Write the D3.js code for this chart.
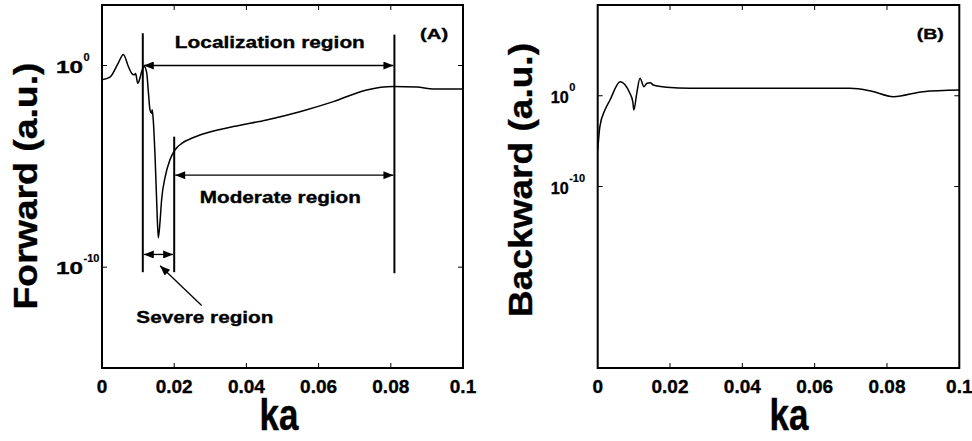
<!DOCTYPE html>
<html>
<head>
<meta charset="utf-8">
<script src="https://cdn.jsdelivr.net/npm/d3@7"></script>
<style>
  body { margin: 0; background: #fff; }
  svg { display: block; }
  text { font-family: "Liberation Sans", Arial, sans-serif; font-weight: bold; fill: #000; stroke: #000; stroke-width: 0.35px; }
</style>
</head>
<body>
<svg id="chart" width="972" height="441"></svg>
<script>
// panel A: forward, values as log10
var kaA = [0, 0.0022, 0.0045, 0.0059, 0.0073, 0.0082, 0.0089, 0.0093, 0.0099, 0.0105, 0.0110, 0.0117,
  0.0124, 0.0128, 0.0133, 0.0138, 0.0139, 0.0142, 0.0147, 0.0152, 0.0156, 0.0161, 0.0165, 0.0175,
  0.0188, 0.0202, 0.0221, 0.0248, 0.0271, 0.0364, 0.0456, 0.0548, 0.0641, 0.0733, 0.0807, 0.0872, 0.0918, 0.1];
var forwardLog = [-0.71, -0.58, 0.12, 0.55, -0.05, -0.38, -0.46, -0.40, -0.88, -0.63, -0.30, -0.05,
  -0.38, -1.21, -2.2, -2.37, -2.2, -2.7, -4.52, -7.0, -8.55, -7.68, -6.68, -5.52,
  -4.69, -4.19, -3.86, -3.61, -3.45, -3.03, -2.7, -2.29, -1.79, -1.21, -1.04, -1.07, -1.16, -1.17];

// panel B: backward, values as log10
var kaB = [0, 0.0006, 0.002, 0.0034, 0.0062, 0.0089, 0.0097, 0.0100, 0.0108, 0.0117, 0.0128, 0.0136,
  0.0145, 0.0154, 0.0191, 0.0255, 0.0698, 0.0753, 0.0818, 0.0900, 0.1];
var backwardLog = [-6.0, -3.4, -1.57, -0.47, 1.55, 0.27, -0.65, -1.57, 0.27, 1.92, 1.0, 1.37,
  1.44, 1.18, 0.93, 0.82, 0.82, 0.55, -0.1, 0.45, 0.63];

var xTicks = [0, 0.02, 0.04, 0.06, 0.08, 0.1];
var xTickLabels = ["0", "0.02", "0.04", "0.06", "0.08", "0.1"];
var yTicks = [0, -10];   // exponents

// region markers in panel A (log10 units)
var regionLines = [
  {ka: 0.0113, from: 1.6, to: -10.25},
  {ka: 0.02, from: -3.53, to: -10.25},
  {ka: 0.081, from: 1.53, to: -10.3}
];
var regionArrows = [
  {x0: 0.0113, x1: 0.081, y: 0},
  {x0: 0.02, x1: 0.081, y: -5.44},
  {x0: 0.0113, x1: 0.02, y: -9.37}
];
var regionLabels = [
  {text: "Localization region", ka: 0.0465, y: 0.88, w: 190},
  {text: "Moderate region", ka: 0.0494, y: -6.8, w: 161},
  {text: "Severe region", ka: 0.0285, y: -12.75, w: 137}
];

var svg = d3.select("#chart");

var defs = svg.append("defs");
defs.append("marker")
  .attr("id", "head")
  .attr("viewBox", "0 0 10 8")
  .attr("refX", 10).attr("refY", 4)
  .attr("markerWidth", 11).attr("markerHeight", 8)
  .attr("markerUnits", "userSpaceOnUse")
  .attr("orient", "auto-start-reverse")
  .append("path").attr("d", "M0,0L10,4L0,8Z").attr("fill", "#000");

function panel(opt) {
  var x = d3.scaleLinear().domain([0, 0.1]).range([opt.left, opt.right]);
  var y = d3.scaleLog().domain([Math.pow(10, opt.ymin), Math.pow(10, opt.ymax)]).range([368, 5]);
  var g = svg.append("g");

  // ticks inside the frame
  xTicks.slice(1, -1).forEach(function(t) {
    g.append("line").attr("x1", x(t)).attr("x2", x(t)).attr("y1", 368).attr("y2", 363)
      .attr("stroke", "#000").attr("stroke-width", 1);
    g.append("line").attr("x1", x(t)).attr("x2", x(t)).attr("y1", 5).attr("y2", 10)
      .attr("stroke", "#000").attr("stroke-width", 1);
  });
  yTicks.forEach(function(t) {
    var yy = y(Math.pow(10, t));
    g.append("line").attr("x1", opt.left).attr("x2", opt.left + 5).attr("y1", yy).attr("y2", yy)
      .attr("stroke", "#000").attr("stroke-width", 1);
    g.append("line").attr("x1", opt.right).attr("x2", opt.right - 5).attr("y1", yy).attr("y2", yy)
      .attr("stroke", "#000").attr("stroke-width", 1);
    var xr = opt.left - opt.tenGap;
    g.append("text").attr("x", xr - opt.tenW).attr("y", yy + 7)
      .attr("textLength", opt.tenW).attr("lengthAdjust", "spacingAndGlyphs")
      .style("font-size", "17px").text("10");
    g.append("text").attr("x", xr + 0.5).attr("y", yy - 5)
      .style("font-size", "11px").style("stroke-width", "0.2px").text(t);
  });

  g.selectAll(".xl").data(xTicks).enter().append("text")
    .attr("x", function(d) { return x(d); }).attr("y", 393)
    .attr("text-anchor", "middle").style("font-size", "19px")
    .text(function(d, i) { return xTickLabels[i]; });

  var line = d3.line()
    .x(function(d) { return x(d[0]); })
    .y(function(d) { return y(Math.pow(10, d[1])); })
    .curve(d3.curveMonotoneX);
  g.append("path").datum(d3.zip(opt.ka, opt.vals))
    .attr("d", line).attr("fill", "none").attr("stroke", "#000").attr("stroke-width", 1.5);

  g.append("rect").attr("x", opt.left).attr("y", 5)
    .attr("width", opt.right - opt.left).attr("height", 363)
    .attr("fill", "none").attr("stroke", "#000").attr("stroke-width", 2);

  g.append("text").attr("transform", "translate(" + opt.labelX + "," + opt.labelY + ") rotate(-90)")
    .attr("text-anchor", "middle").style("font-size", "34px")
    .attr("textLength", opt.labelLen).attr("lengthAdjust", "spacingAndGlyphs")
    .text(opt.ylabel);
  g.append("text").attr("transform", "translate(" + opt.kaX + ",430) scale(0.97,1.22)")
    .attr("text-anchor", "middle").style("font-size", "36px").text("ka");

  g.append("text").attr("x", x(0.092) - opt.tagW / 2).attr("y", y(Math.pow(10, opt.tagY)))
    .attr("textLength", opt.tagW).attr("lengthAdjust", "spacingAndGlyphs")
    .style("font-size", "15px").text(opt.tag);

  return {x: x, y: y, g: g};
}

var A = panel({left: 102, right: 463, ymin: -15, ymax: 3, ka: kaA, vals: forwardLog,
  ylabel: "Forward (a.u.)", labelX: 37, labelY: 186, labelLen: 247, kaX: 279,
  tenW: 27, tenGap: 19, tag: "(A)", tagY: 1.33, tagW: 28});
var B = panel({left: 597.7, right: 959.3, ymin: -30, ymax: 10, ka: kaB, vals: backwardLog,
  ylabel: "Backward (a.u.)", labelX: 532, labelY: 180, labelLen: 274, kaX: 789,
  tenW: 18, tenGap: 29, tag: "(B)", tagY: 6.25, tagW: 27});

function py(v) { return A.y(Math.pow(10, v)); }

A.g.selectAll(".rl").data(regionLines).enter().append("line")
  .attr("x1", function(d) { return A.x(d.ka); }).attr("x2", function(d) { return A.x(d.ka); })
  .attr("y1", function(d) { return py(d.from); }).attr("y2", function(d) { return py(d.to); })
  .attr("stroke", "#000").attr("stroke-width", 2);

A.g.selectAll(".ra").data(regionArrows).enter().append("line")
  .attr("x1", function(d) { return A.x(d.x0) + 1; }).attr("x2", function(d) { return A.x(d.x1) - 1; })
  .attr("y1", function(d) { return py(d.y); }).attr("y2", function(d) { return py(d.y); })
  .attr("stroke", "#000").attr("stroke-width", 1.3)
  .attr("marker-start", "url(#head)").attr("marker-end", "url(#head)");

// pointer to the severe region
A.g.append("line")
  .attr("x1", A.x(0.0276)).attr("y1", py(-11.9))
  .attr("x2", A.x(0.0161)).attr("y2", py(-9.93))
  .attr("stroke", "#000").attr("stroke-width", 1.3)
  .attr("marker-end", "url(#head)");

A.g.selectAll(".rt").data(regionLabels).enter().append("text")
  .attr("x", function(d) { return A.x(d.ka) - d.w / 2; }).attr("y", function(d) { return py(d.y); })
  .style("font-size", "17px")
  .attr("textLength", function(d) { return d.w; }).attr("lengthAdjust", "spacingAndGlyphs")
  .text(function(d) { return d.text; });
</script>
</body>
</html>
